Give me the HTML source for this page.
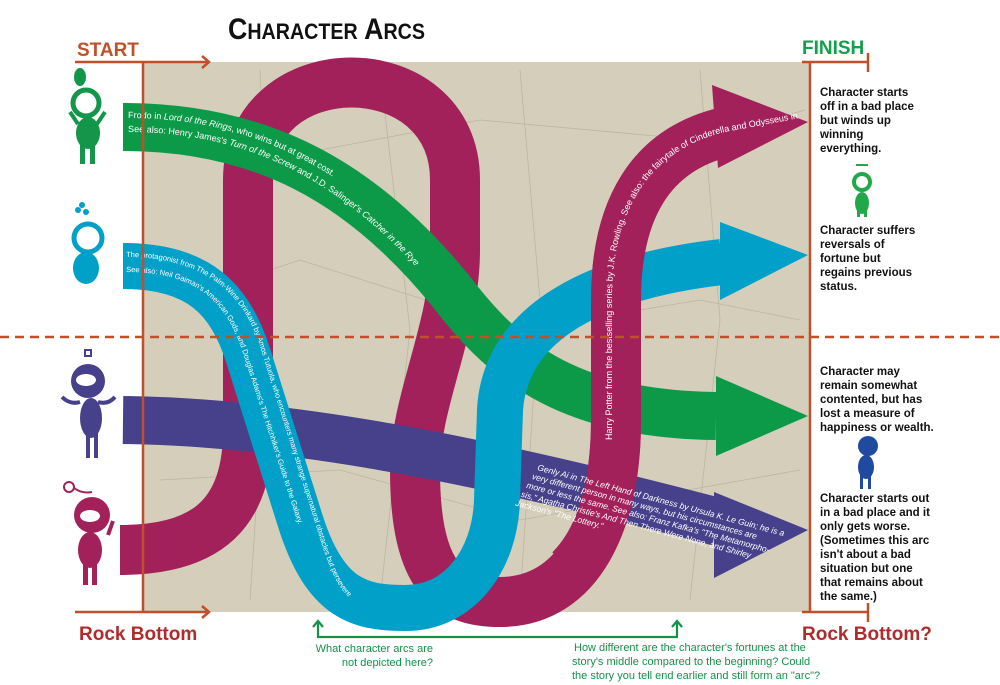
<!DOCTYPE html>
<html><head><meta charset="utf-8"><style>
html,body{margin:0;padding:0;background:#fff}
svg{display:block}
text{font-family:"Liberation Sans",sans-serif}
</style></head><body>
<svg width="1000" height="685" viewBox="0 0 1000 685" xmlns="http://www.w3.org/2000/svg">
<defs>
<path id="gp" d="M128,118 C260,118 360,175 450,285"/>
<path id="gp2" d="M128,132 C260,132 355,190 445,300"/>
<path id="cp" d="M126,257 C200,257 240,290 258,340 L322,545 C332,575 340,590 350,598"/>
<path id="cp2" d="M126,272 C195,272 225,300 242,350 L305,545"/>
<path id="mp" d="M612,440 L612,300 C612,210 650,150 725,132 L800,118"/>
</defs>
<!-- map -->
<rect x="143" y="62" width="667" height="550" fill="#d5cebb"/>
<g stroke="#b3ab97" stroke-width="0.8" fill="none" opacity="0.7">
<path d="M150,120 L320,150 L480,120 L700,140 L805,110"/>
<path d="M180,300 L300,260 L520,330 L700,300 L800,320"/>
<path d="M160,480 L340,470 L520,520 L800,470"/>
<path d="M260,70 L270,300 L250,600"/><path d="M520,70 L540,300 L520,600"/>
<path d="M700,70 L720,320 L690,600"/><path d="M380,70 L410,330 L380,600"/>
</g>
<g fill="none" stroke-linecap="butt">
<path d="M120,550 C200,550 248,520 248,430 L248,180 C248,50 455,50 455,180 L455,250 C455,330 415,400 415,470 C415,580 450,602 500,602 C580,602 616,520 616,420 L616,300 C616,210 650,150 725,132" stroke="#a3215b" stroke-width="50"/>
<path d="M123,127 C260,127 360,180 450,290 C500,355 560,414 716,416" stroke="#0d9a48" stroke-width="48"/>
<path d="M123,420 C300,422 500,465 718,522" stroke="#46418a" stroke-width="48"/>
<path d="M123,266 C200,266 230,300 248,355 L300,520 C325,600 360,608 405,608 C460,608 495,560 497,500 L500,410 C505,320 600,276 722,262" stroke="#00a0c8" stroke-width="46"/>
<path d="M570,570 C600,540 616,490 616,420 L616,300 C616,210 650,150 725,132" stroke="#a3215b" stroke-width="50"/>
</g>
<polygon points="716,376 808,416 716,456" fill="#0d9a48"/>
<polygon points="714,492 808,530 714,578" fill="#46418a"/>
<polygon points="720,222 808,255 720,300" fill="#00a0c8"/>
<polygon points="712,85 808,122 718,168" fill="#a3215b"/>
<g fill="#fff" font-size="9">
<text><textPath href="#gp">Frodo in <tspan font-style="italic">Lord of the Rings</tspan>, who wins but at great cost.</textPath></text>
<text><textPath href="#gp2">See also: Henry James's <tspan font-style="italic">Turn of the Screw</tspan> and J.D. Salinger's <tspan font-style="italic">Catcher in the Rye</tspan></textPath></text>
<text font-size="7.5"><textPath href="#cp">The protagonist from The Palm-Wine Drinkard by Amos Tutuola, who encounters many strange supernatural obstacles but perseveres.</textPath></text>
<text font-size="7.5"><textPath href="#cp2">See also: Neil Gaiman's American Gods, and Douglas Adams's The Hitchhiker's Guide to the Galaxy.</textPath></text>
<text font-size="9"><textPath href="#mp">Harry Potter from the bestselling series by J.K. Rowling. See also: the fairytale of Cinderella and Odysseus in The Odyssey.</textPath></text>
</g>
<g fill="#fff" font-size="8.5" font-style="italic" transform="translate(537,470) rotate(15)">
<text x="0" y="0">Genly Ai in The Left Hand of Darkness by Ursula K. Le Guin; he is a</text>
<text x="-3" y="10">very different person in many ways, but his circumstances are</text>
<text x="-6" y="20">more or less the same. See also: Franz Kafka's "The Metamorpho-</text>
<text x="-9" y="30">sis," Agatha Christie's And Then There Were None, and Shirley</text>
<text x="-12" y="40">Jackson's "The Lottery."</text>
</g>
<g stroke="#c0502a" stroke-width="2.5" fill="none">
<line x1="143" y1="62" x2="143" y2="612"/>
<line x1="810" y1="62" x2="810" y2="612"/>
<line x1="75" y1="62" x2="208" y2="62"/><path d="M202,56 L209,62 L202,68"/>
<line x1="75" y1="612" x2="208" y2="612"/><path d="M202,606 L209,612 L202,618"/>
<line x1="802" y1="62" x2="868" y2="62"/><line x1="868" y1="53" x2="868" y2="72"/>
<line x1="802" y1="612" x2="868" y2="612"/><line x1="868" y1="603" x2="868" y2="622"/>
<line x1="0" y1="337" x2="1000" y2="337" stroke-dasharray="9,6"/>
</g>
<g stroke="#14924a" stroke-width="2.2" fill="none">
<path d="M318,622 L318,637 L677,637 L677,622"/>
<path d="M313,627 L318,621 L323,627"/><path d="M672,627 L677,621 L682,627"/>
</g>
<g fill="#14924a" font-size="11">
<text x="433" y="652" text-anchor="end">What character arcs are</text>
<text x="433" y="666" text-anchor="end">not depicted here?</text>
<text x="574" y="651">How different are the character's fortunes at the</text>
<text x="572" y="665">story's middle compared to the beginning? Could</text>
<text x="572" y="679">the story you tell end earlier and still form an "arc"?</text>
</g>
<text x="77" y="56" font-size="19" font-weight="bold" fill="#c0502a">START</text>
<text x="79" y="640" font-size="19" font-weight="bold" fill="#b02c2c">Rock Bottom</text>
<text x="802" y="54" font-size="19" font-weight="bold" fill="#14a04a">FINISH</text>
<text x="802" y="640" font-size="19" font-weight="bold" fill="#b02c2c">Rock Bottom?</text>
<text x="228" y="39" font-size="30" font-weight="bold" fill="#111" textLength="197" lengthAdjust="spacingAndGlyphs">C<tspan font-size="22">HARACTER</tspan> A<tspan font-size="22">RCS</tspan></text>
<g font-size="11.5" font-weight="bold" fill="#111">
<text x="820" y="96">Character starts</text><text x="820" y="110">off in a bad place</text><text x="820" y="124">but winds up</text><text x="820" y="138">winning</text><text x="820" y="152">everything.</text>
<text x="820" y="234">Character suffers</text><text x="820" y="248">reversals of</text><text x="820" y="262">fortune but</text><text x="820" y="276">regains previous</text><text x="820" y="290">status.</text>
<text x="820" y="375">Character may</text><text x="820" y="389">remain somewhat</text><text x="820" y="403">contented, but has</text><text x="820" y="417">lost a measure of</text><text x="820" y="431">happiness or wealth.</text>
<text x="820" y="502">Character starts out</text><text x="820" y="516">in a bad place and it</text><text x="820" y="530">only gets worse.</text><text x="820" y="544">(Sometimes this arc</text><text x="820" y="558">isn't about a bad</text><text x="820" y="572">situation but one</text><text x="820" y="586">that remains about</text><text x="820" y="600">the same.)</text>
</g>
<g fill="#14964a" stroke="none">
<ellipse cx="80" cy="77" rx="6" ry="9"/>
<circle cx="86" cy="103" r="13" fill="none" stroke="#14964a" stroke-width="5"/>
<ellipse cx="88" cy="133" rx="12" ry="16"/>
<rect x="80" y="142" width="5" height="22"/><rect x="90" y="142" width="5" height="22"/>
<path d="M70,112 L78,124" stroke="#14964a" stroke-width="4"/><path d="M105,112 L97,124" stroke="#14964a" stroke-width="4"/>
</g>
<g fill="#00a0c8">
<circle cx="78" cy="210" r="3"/><circle cx="86" cy="212" r="3"/><circle cx="82" cy="205" r="3"/>
<circle cx="88" cy="238" r="14" fill="none" stroke="#00a0c8" stroke-width="5"/>
<ellipse cx="86" cy="268" rx="13" ry="16"/>
</g>
<g fill="#46418a">
<rect x="85" y="350" width="6" height="6" fill="none" stroke="#46418a" stroke-width="2"/>
<circle cx="88" cy="381" r="17"/>
<ellipse cx="86" cy="380" rx="10" ry="6" fill="#fff"/>
<ellipse cx="91" cy="418" rx="11" ry="20"/>
<rect x="86" y="432" width="4" height="26"/><rect x="94" y="432" width="4" height="26"/>
<path d="M62,397 Q70,405 80,402 M115,397 Q108,405 98,402" stroke="#46418a" stroke-width="4" fill="none"/>
</g>
<g fill="#a3215b">
<circle cx="69" cy="487" r="5" fill="none" stroke="#a3215b" stroke-width="2"/>
<path d="M74,488 Q82,494 92,492" stroke="#a3215b" stroke-width="2" fill="none"/>
<circle cx="92" cy="515" r="18"/>
<ellipse cx="90" cy="516" rx="10" ry="6" fill="#fff"/>
<ellipse cx="90" cy="550" rx="12" ry="18"/>
<rect x="83" y="560" width="5" height="25"/><rect x="92" y="560" width="5" height="25"/>
<path d="M113,521 L108,535" stroke="#a3215b" stroke-width="4"/>
</g>
<g fill="#22a84a">
<path d="M856,165 L868,165" stroke="#22a84a" stroke-width="2"/>
<circle cx="862" cy="182" r="8" fill="none" stroke="#22a84a" stroke-width="4"/>
<ellipse cx="862" cy="203" rx="7" ry="11"/>
<rect x="857" y="207" width="3" height="10"/><rect x="864" y="207" width="3" height="10"/>
</g>
<g fill="#1f4aa0">
<circle cx="868" cy="446" r="10"/>
<ellipse cx="866" cy="467" rx="8" ry="12"/>
<rect x="860" y="475" width="3" height="14"/><rect x="868" y="475" width="3" height="14"/>
</g>
</svg>
</body></html>
